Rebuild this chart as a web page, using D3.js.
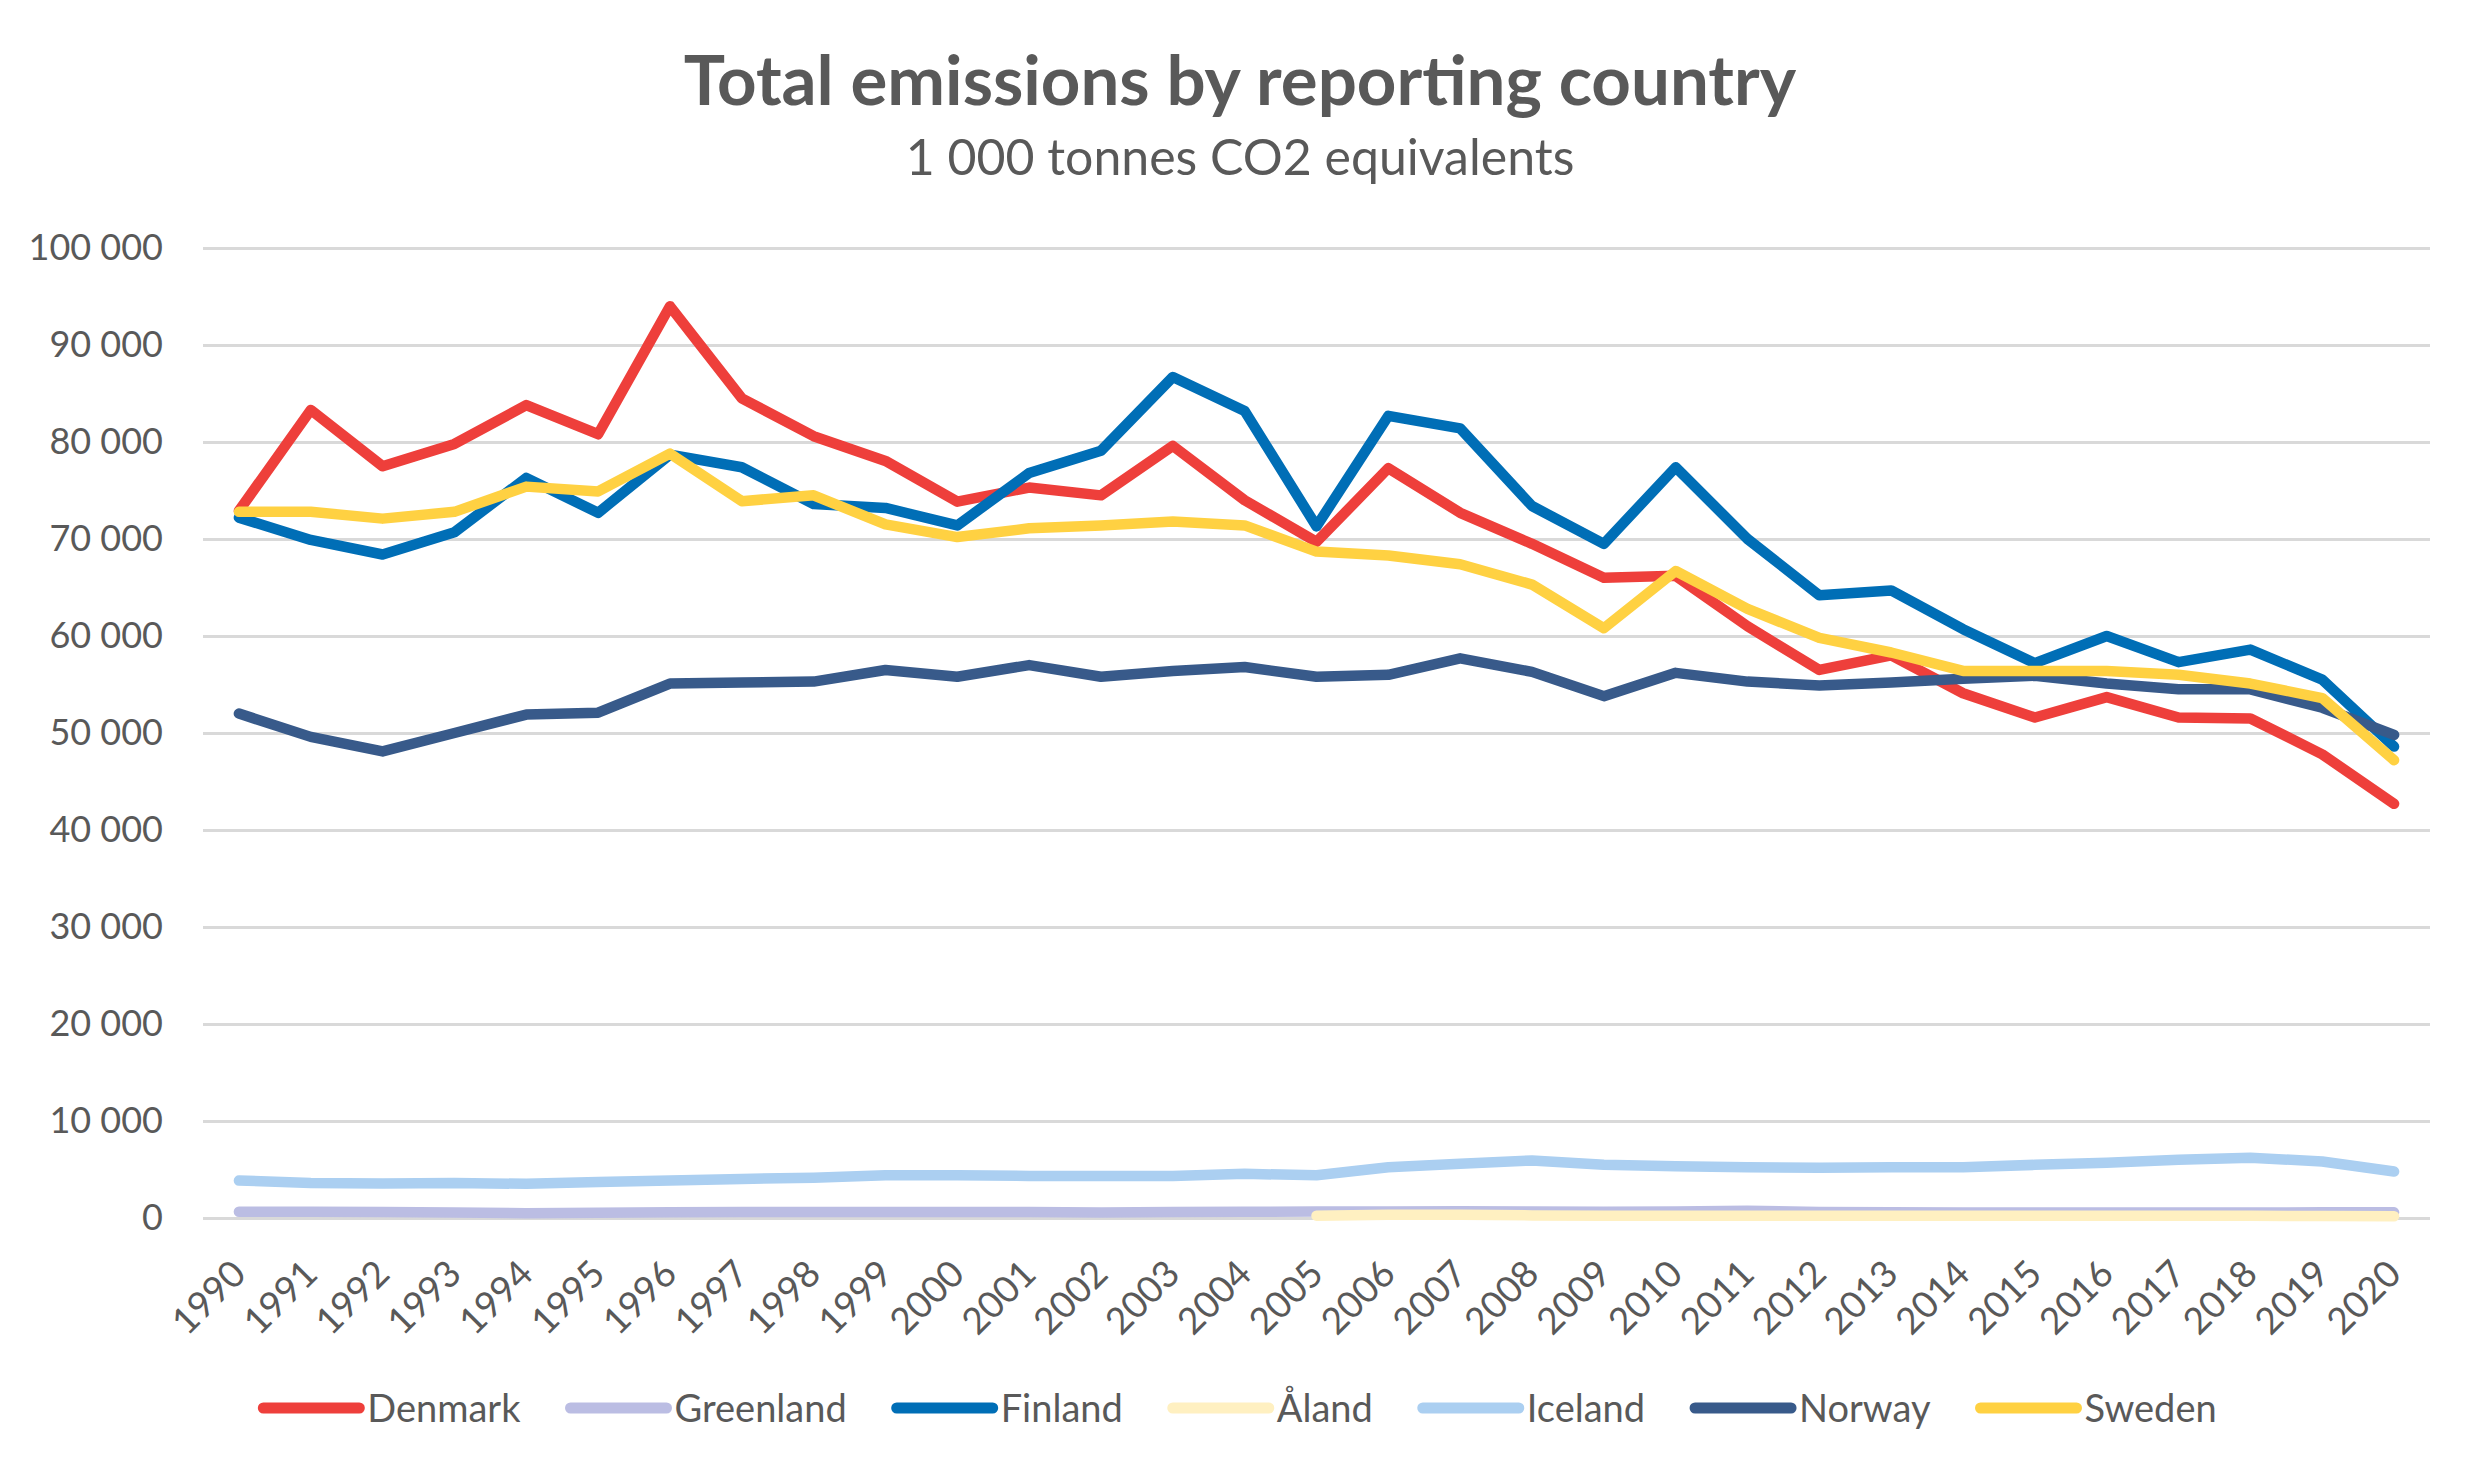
<!DOCTYPE html>
<html lang="en">
<head>
<meta charset="UTF-8">
<title>Total emissions by reporting country</title>
<script src="https://d3js.org/d3.v7.min.js"></script>
<style>
  body { margin: 0; background: #fff; }
  svg text { font-family: Lato, "Open Sans", sans-serif; fill: #595959; }
</style>
</head>
<body>
<script>
const years = d3.range(1990, 2021);
const yTicks = [0, 10000, 20000, 30000, 40000, 50000, 60000, 70000, 80000, 90000, 100000];

const denmark = [72900, 83300, 77500, 79800, 83800, 80800, 94000, 84500, 80600, 78050, 73850, 75300, 74500, 79600, 74000, 69700, 77300, 72700, 69500, 66000, 66200, 61000, 56500, 58000, 54100, 51600, 53700, 51600, 51500, 47800, 42700];
const greenland = [650, 650, 620, 560, 500, 530, 600, 620, 620, 630, 630, 620, 560, 610, 650, 660, 680, 690, 660, 640, 660, 760, 620, 580, 570, 570, 560, 560, 570, 580, 580];
const finland = [72200, 69900, 68400, 70700, 76300, 72700, 78700, 77400, 73600, 73200, 71400, 76800, 79100, 86700, 83200, 71300, 82700, 81400, 73400, 69500, 77400, 70000, 64200, 64700, 60700, 57200, 60000, 57300, 58600, 55500, 48600];
const aland = [null, null, null, null, null, null, null, null, null, null, null, null, null, null, null, 240, 330, 330, 270, 240, 230, 230, 220, 220, 220, 220, 220, 220, 220, 210, 190];
const iceland = [3860, 3620, 3550, 3620, 3520, 3720, 3860, 4030, 4140, 4410, 4410, 4340, 4340, 4340, 4550, 4410, 5240, 5590, 5930, 5480, 5340, 5240, 5170, 5240, 5240, 5480, 5690, 6000, 6210, 5830, 4790];
const norway = [52000, 49600, 48100, 50000, 51900, 52100, 55100, 55200, 55300, 56500, 55800, 57000, 55800, 56400, 56800, 55800, 56000, 57700, 56300, 53800, 56200, 55300, 54900, 55200, 55600, 55900, 55100, 54500, 54500, 52600, 49800];
const sweden = [72800, 72800, 72100, 72800, 75400, 74900, 78800, 73900, 74500, 71500, 70200, 71100, 71400, 71800, 71400, 68700, 68300, 67400, 65300, 60800, 66700, 62800, 59800, 58300, 56400, 56400, 56400, 56000, 55100, 53600, 47200];

const series = [
  { name: "Denmark", values: denmark, color: "#EE3F3B" },
  { name: "Greenland", values: greenland, color: "#BBBDE3" },
  { name: "Finland", values: finland, color: "#006EB6" },
  { name: "Åland", values: aland, color: "#FFF0C1" },
  { name: "Iceland", values: iceland, color: "#ABCFF1" },
  { name: "Norway", values: norway, color: "#385A8A" },
  { name: "Sweden", values: sweden, color: "#FFD142" }
];

const width = 2481, height = 1473;
const svg = d3.select("body").append("svg")
  .attr("width", width)
  .attr("height", height);

const x = d3.scalePoint().domain(years).range([203, 2430]).padding(0.5);
const y = d3.scaleLinear().domain([0, 100000]).range([1218, 248]);

const fmt = d3.formatLocale({ decimal: ",", thousands: " ", grouping: [3], currency: ["", ""] }).format(",");

// title
svg.append("text")
  .attr("x", 1240).attr("y", 105)
  .attr("text-anchor", "middle")
  .style("font-size", "69px").style("font-weight", "bold")
  .text("Total emissions by reporting country");

svg.append("text")
  .attr("x", 1240).attr("y", 175)
  .attr("text-anchor", "middle")
  .style("font-size", "50px")
  .text("1 000 tonnes CO2 equivalents");

// gridlines + y labels
const yAxis = d3.axisLeft(y).tickValues(yTicks).tickSize(-(2430 - 203)).tickFormat(fmt).tickPadding(40);
const gy = svg.append("g").attr("transform", "translate(203,0)").call(yAxis);
gy.select(".domain").remove();
gy.selectAll(".tick line").attr("stroke", "#D9D9D9").attr("stroke-width", 3);
gy.selectAll(".tick text").style("font-size", "36px").attr("fill", "#595959");

// x labels
svg.append("g").selectAll("text")
  .data(years)
  .join("text")
  .attr("transform", d => `translate(${x(d) + 9},1276) rotate(-45)`)
  .attr("text-anchor", "end")
  .style("font-size", "37px")
  .text(d => d);

// lines
const line = d3.line()
  .defined(d => d != null)
  .x((d, i) => x(years[i]))
  .y(d => y(d));

svg.append("g").selectAll("path")
  .data(series)
  .join("path")
  .attr("fill", "none")
  .attr("stroke", d => d.color)
  .attr("stroke-width", 10.5)
  .attr("stroke-linejoin", "round")
  .attr("stroke-linecap", "round")
  .attr("d", d => line(d.values));

// legend
const legend = svg.append("g");
const items = legend.selectAll("g").data(series).join("g");
items.append("line")
  .attr("x1", 0).attr("x2", 96)
  .attr("y1", 0).attr("y2", 0)
  .attr("stroke", d => d.color)
  .attr("stroke-width", 11)
  .attr("stroke-linecap", "round");
items.append("text")
  .attr("x", 104).attr("y", 14)
  .style("font-size", "38px")
  .text(d => d.name);

let pos = 0;
const offsets = [];
items.each(function(d) {
  const w = d3.select(this).select("text").node().getComputedTextLength();
  offsets.push(pos);
  pos += 104 + w + 50;
});
const total = pos - 50;
const start = 1240 - total / 2;
items.attr("transform", (d, i) => `translate(${start + offsets[i]},1408)`);
</script>
</body>
</html>
